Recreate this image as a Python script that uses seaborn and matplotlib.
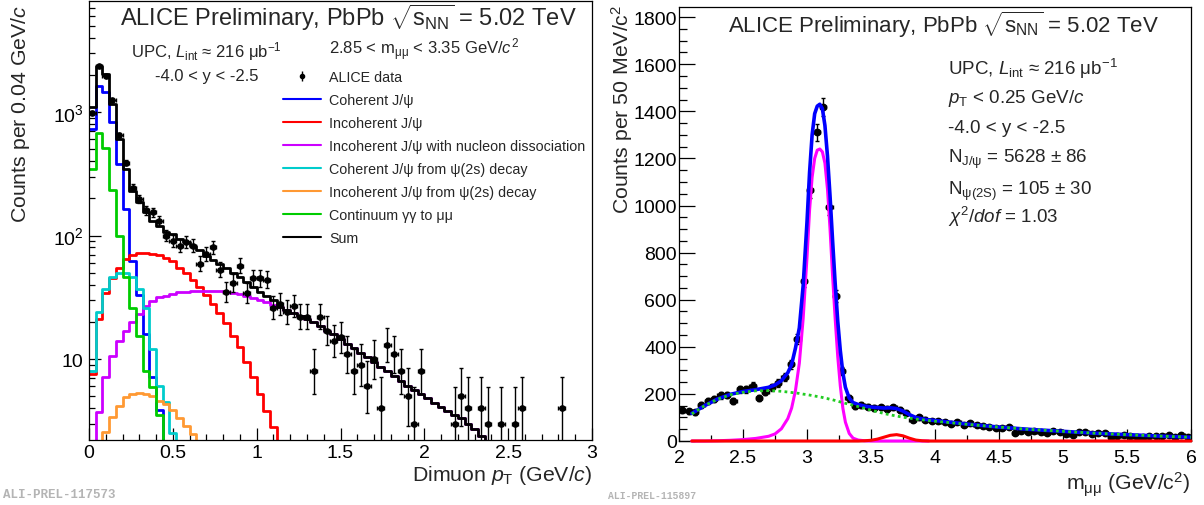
import numpy as np
import pandas as pd
import matplotlib
matplotlib.use("Agg")
import matplotlib.pyplot as plt
import seaborn as sns
from matplotlib.lines import Line2D
from matplotlib.ticker import FixedLocator, FixedFormatter, MultipleLocator, FuncFormatter

# ---------------- left panel: pT distribution (bins of 0.04 GeV/c from 0 to 3) ----------------
pt_bin_width = 0.04
n_pt_bins = 75
data_counts = [990, 2350, 1950, 1240, 650, 390, 243, 198, 160, 155,
               132, 100, 91, 83, 89, 83, 59, 71, 80, 53,
               35, 41, 57, 34, 45, 45, 44, 26, 28, 24,
               27, 22, 22, 8, 22, 17, 14, 15, 11, 8,
               9, 6, 10, 4, 13, 11, 8, 5, 3, 8,
               0, 0, 0, 0, 3, 5, 4, 0, 4, 3,
               0, 3, 0, 3, 4, 0, 0, 0, 0, 0,
               4, 0, 0, 0, 0]
coherent = [728, 1633, 1443, 825, 379, 164, 62, 33, 16, 7.1, 3.9]
incoherent = [7.5, 21, 34, 45, 55, 64, 70, 72, 72, 71, 69, 66, 62, 55, 50, 44, 38, 33,
              28, 23.5, 19.5, 15.5, 12.5, 9.5, 7.2, 5.2, 3.8, 2.8]
incoh_dissoc = [0, 3.7, 7.1, 10.6, 14.0, 17.0, 19.8, 23.1, 27.0, 29.6, 31.6, 32.6, 33.6,
                34.6, 35.2, 35.6, 35.8, 35.8, 35.6, 35.3, 34.8, 34.2, 33.5, 32.5, 31.3,
                30.0, 28.8, 27.5, 26.2, 25.0, 23.7, 22.4, 21.1, 19.8, 18.5, 17.0, 15.8,
                14.5, 13.3, 12.2, 11.2, 10.3, 9.5, 8.7, 8.0, 7.3, 6.7, 6.1, 5.6, 5.2,
                4.8, 4.4, 4.1, 3.8, 3.55, 3.3, 3.0, 2.7, 2.4]
coh_from_psi2s = [8, 24, 37, 46, 50, 50, 46, 37, 26, 12, 6, 4.5, 2.5]
incoh_from_psi2s = [0, 0, 2.55, 3.4, 4.2, 4.9, 5.2, 5.27, 5.2, 5.0, 4.6, 4.3, 3.85,
                    3.3, 2.85, 2.45, 2.1]
continuum = [345, 676, 508, 233, 100, 46, 26, 15.5, 8.0, 5.9, 3.5]

legend_labels = ["ALICE data", "Coherent J/\u03c8", "Incoherent J/\u03c8",
                 "Incoherent J/\u03c8 with nucleon dissociation",
                 "Coherent J/\u03c8 from \u03c8(2s) decay",
                 "Incoherent J/\u03c8 from \u03c8(2s) decay",
                 "Continuum \u03b3\u03b3 to \u03bc\u03bc", "Sum"]
comp_colors = ["#0000ff", "#ff0000", "#cc00ff", "#00cccc", "#ff9933", "#00cc00"]

# ---------------- right panel: invariant mass (bins of 50 MeV/c^2 from 2 to 6) ----------------
m_bin_width = 0.05
mass_counts = [131, 126, 122, 152, 171, 177, 194, 196, 168, 219,
               219, 235, 182, 208, 228, 246, 272, 325, 433, 681,
               1066, 1311, 1417, 992, 617, 299, 181, 147, 153, 146,
               139, 143, 136, 143, 132, 120, 89, 100, 91, 84,
               86, 79, 72, 82, 69, 76, 68, 65, 58, 54,
               55, 58, 33, 44, 40, 41, 37, 34, 44, 40,
               30, 27, 37, 37, 30, 33, 34, 16, 23, 27,
               23, 18, 18, 23, 23, 20, 25, 18, 27, 16]
fit_mass = [2.10, 2.20, 2.30, 2.40, 2.50, 2.60, 2.70, 2.75, 2.80, 2.85, 2.88, 2.91, 2.94, 2.97,
            3.00, 3.02, 3.04, 3.06, 3.08, 3.10, 3.12, 3.14, 3.16, 3.18, 3.20, 3.22, 3.24, 3.26,
            3.28, 3.30, 3.33, 3.36, 3.40, 3.45, 3.50, 3.55, 3.60, 3.65, 3.70, 3.75, 3.80, 3.85,
            3.90, 3.95, 4.00, 4.25, 4.50, 4.75, 5.00, 5.25, 5.50, 5.75, 6.00]
fit_total = [117, 150, 178, 198, 210, 218, 228, 238, 256, 290, 325, 395, 480, 660,
             930, 1140, 1300, 1390, 1422, 1430, 1412, 1340, 1210, 1040, 850, 670, 510, 385,
             290, 228, 182, 163, 155, 148, 144, 142, 140, 141, 138, 127, 112, 100,
             94, 90, 87, 72, 59, 49, 41, 33, 27, 21, 16]
fit_background = [115, 150, 177, 196, 207, 213, 214, 213, 211, 208, 206, 204, 202, 199,
                  197, 195, 193, 191, 189, 187, 185, 182, 180, 177, 175, 172, 169, 166,
                  163, 160, 156, 152, 146, 139, 131, 124, 117, 111, 106, 101, 97, 93,
                  90, 87, 84, 71, 59, 49, 41, 33, 27, 21, 16]
fit_jpsi = [0, 0, 1, 3, 6, 11, 20, 30, 52, 95, 140, 215, 330, 520,
            780, 980, 1120, 1200, 1235, 1240, 1228, 1180, 1070, 900, 700, 520, 360, 235,
            140, 80, 32, 12, 4, 1, 0, 0, 0, 0, 0, 0, 0, 0,
            0, 0]
fit_psi2s = [0, 0, 0, 0, 0, 0, 0, 0, 0, 0, 0, 0, 0, 0,
             0, 0, 0, 0, 0, 0, 0, 0, 0, 0, 0, 0, 0, 0,
             0, 0, 0, 0, 0, 1, 3, 8, 16, 24, 27, 22, 12, 4,
             1, 0, 0, 0, 0, 0, 0, 0, 0, 0, 0]

# ---------------- style ----------------
sns.set_theme(style="ticks")
plt.rcParams["font.family"] = ["Liberation Sans", "DejaVu Sans"]
plt.rcParams["mathtext.fontset"] = "custom"
plt.rcParams["mathtext.rm"] = "Liberation Sans"
plt.rcParams["mathtext.it"] = "Liberation Sans:italic"
plt.rcParams["mathtext.bf"] = "Liberation Sans:bold"
plt.rcParams["mathtext.sf"] = "Liberation Sans"
plt.rcParams["axes.edgecolor"] = "black"
plt.rcParams["axes.linewidth"] = 0.9

W, H = 1204, 506
fig = plt.figure(figsize=(W / 100, H / 100), dpi=100)
fig.patch.set_facecolor("white")

def fx(px):
    return px / W

def fy(py):
    return 1 - py / H

axL = fig.add_axes([fx(89), fy(441), fx(592) - fx(89), fy(2) - fy(441)])
axR = fig.add_axes([fx(679), fy(442), fx(1191) - fx(679), fy(8) - fy(442)])

# ---------------- left panel drawing ----------------
centers = pt_bin_width / 2 + pt_bin_width * np.arange(n_pt_bins)

def pad(vals):
    out = np.zeros(n_pt_bins)
    out[:len(vals)] = vals
    return out

comps = [pad(coherent), pad(incoherent), pad(incoh_dissoc), pad(coh_from_psi2s),
         pad(incoh_from_psi2s), pad(continuum)]
total = np.sum(comps, axis=0)

for vals, col in list(zip(comps, comp_colors)) + [(total, "black")]:
    dfh = pd.DataFrame({"pt": centers, "w": vals})
    sns.histplot(data=dfh, x="pt", weights="w", binwidth=pt_bin_width, binrange=(0, 3),
                 element="step", fill=False, color=col, linewidth=2.0, ax=axL)

dc = np.array(data_counts, dtype=float)
mask = dc > 0
n = dc[mask]
err_hi = 1 + np.sqrt(n + 0.75)
err_lo = n - n * (1 - 1 / (9 * n) - 1 / (3 * np.sqrt(n))) ** 3
axL.errorbar(centers[mask], n, yerr=[err_lo, err_hi], xerr=pt_bin_width / 2,
             fmt="o", ms=3.8, color="black", ecolor="black", elinewidth=1.0,
             capsize=1.5, capthick=1.0, zorder=5)

axL.set_yscale("log")
axL.set_xlim(0, 3)
axL.set_ylim(2.21, 7925)
axL.set_xlabel("")
axL.set_ylabel("")
axL.xaxis.set_major_locator(MultipleLocator(0.5))
axL.xaxis.set_minor_locator(MultipleLocator(0.1))
axL.xaxis.set_major_formatter(FuncFormatter(lambda v, p: "%g" % v))
axL.yaxis.set_major_locator(FixedLocator([10, 100, 1000]))
axL.yaxis.set_major_formatter(FixedFormatter(["10", r"$10^{2}$", r"$10^{3}$"]))
minors = [m * d for d in (1, 10, 100, 1000) for m in range(2, 10)]
axL.yaxis.set_minor_locator(FixedLocator(minors))
axL.tick_params(axis="both", which="both", direction="in", top=False, right=False,
                labelsize=14, colors="black")
axL.tick_params(axis="both", which="major", length=8.6, width=0.9)
axL.tick_params(axis="both", which="minor", length=4.3, width=0.9)
axL.tick_params(axis="x", which="major", pad=3)
axL.tick_params(axis="y", which="major", pad=4)

# legend
h_data = (Line2D([], [], marker="|", ms=7, mew=1, color="black", linestyle="none"),
          Line2D([], [], marker="o", ms=3, color="black", linestyle="none"))
handles = [h_data] + [Line2D([], [], color=c, lw=1.5) for c in comp_colors] + \
          [Line2D([], [], color="black", lw=1.5)]
axL.legend(handles, legend_labels, loc="upper left",
           bbox_to_anchor=(fx(283), fy(71)), bbox_transform=fig.transFigure,
           frameon=False, fontsize=10.3, handlelength=2.66, handletextpad=0.56,
           labelspacing=0.63, borderpad=0, borderaxespad=0)

# ---------------- right panel drawing ----------------
m_centers = 2.0 + m_bin_width / 2 + m_bin_width * np.arange(len(mass_counts))
mc = np.array(mass_counts, dtype=float)
axR.errorbar(m_centers, mc, yerr=np.sqrt(mc), xerr=m_bin_width / 2, fmt="o", ms=4.6,
             color="black", ecolor="black", elinewidth=1.0, capsize=1.5, zorder=3)
nj = len(fit_jpsi)
sns.lineplot(x=fit_mass[:nj], y=fit_jpsi, ax=axR, color="#ff00ff", lw=2.2, sort=False,
             estimator=None, zorder=4, clip_on=False)
sns.lineplot(x=fit_mass, y=fit_psi2s, ax=axR, color="#ff0000", lw=2.2, sort=False,
             estimator=None, zorder=5, clip_on=False)
sns.lineplot(x=fit_mass, y=fit_total, ax=axR, color="#0000ff", lw=2.6, sort=False,
             estimator=None, zorder=6)
sns.lineplot(x=fit_mass, y=fit_background, ax=axR, color="#22cc22", lw=2.0,
             linestyle=(0, (1, 1.2)), sort=False, estimator=None, zorder=7)

axR.set_xlim(2, 6)
axR.set_ylim(0, 1843)
axR.set_xlabel("")
axR.set_ylabel("")
axR.xaxis.set_major_locator(MultipleLocator(0.5))
axR.xaxis.set_minor_locator(MultipleLocator(0.25))
axR.xaxis.set_major_formatter(FuncFormatter(lambda v, p: "%g" % v))
axR.yaxis.set_major_locator(MultipleLocator(200))
axR.yaxis.set_minor_locator(MultipleLocator(50))
axR.tick_params(axis="both", which="both", direction="in", top=False, right=False,
                labelsize=14, colors="black")
axR.tick_params(axis="y", which="major", length=11.5, width=0.9, pad=1.5)
axR.tick_params(axis="y", which="minor", length=5.8, width=0.9)
axR.tick_params(axis="x", which="major", length=8.6, width=0.9, pad=5.5)
axR.tick_params(axis="x", which="minor", length=4.3, width=0.9)

# ---------------- texts ----------------
title = r"ALICE Preliminary, PbPb $\sqrt{\mathrm{s}_{\mathrm{NN}}}$ = 5.02 TeV"
fig.text(fx(120), fy(26), title, fontsize=17, ha="left", va="baseline")
fig.text(fx(728), fy(33), title, fontsize=16, ha="left", va="baseline")

fig.text(fx(131), fy(57), r"UPC, $L_{\mathrm{int}}$ ≈ 216 μb$^{\mathrm{-1}}$",
         fontsize=12, ha="left", va="baseline")
fig.text(fx(155), fy(81), "-4.0 < y < -2.5", fontsize=12, ha="left", va="baseline")
fig.text(fx(329), fy(55), r"2.85 < m$_{\mathrm{\mu\mu}}$ < 3.35 GeV/$c^{2}$",
         fontsize=12, ha="left", va="baseline")

right_lines = [(75, r"UPC, $L_{\mathrm{int}}$ ≈ 216 μb$^{\mathrm{-1}}$"),
               (103, r"$p_{\mathrm{T}}$ < 0.25 GeV/$c$"),
               (133, "-4.0 < y < -2.5"),
               (163, r"N$_{\mathrm{J/\psi}}$ = 5628 ± 86"),
               (195, r"N$_{\mathrm{\psi(2S)}}$ = 105 ± 30"),
               (223, r"$\chi^{2}$/$dof$ = 1.03")]
for yb, s in right_lines:
    fig.text(fx(948), fy(yb), s, fontsize=13.5, ha="left", va="baseline")

fig.text(fx(21), fy(5), "Counts per 0.04 GeV/$c$", fontsize=15.3, rotation=90,
         ha="center", va="top")
fig.text(fx(622), fy(5), r"Counts per 50 MeV/c$^{2}$", fontsize=15.3, rotation=90,
         ha="center", va="top")
fig.text(fx(592), fy(481), r"Dimuon $p_{\mathrm{T}}$ (GeV/$c$)", fontsize=15.3,
         ha="right", va="baseline")
fig.text(fx(1190), fy(491), r"m$_{\mathrm{\mu\mu}}$ (GeV/c$^{2}$)", fontsize=15.3,
         ha="right", va="baseline")

fig.text(fx(3), fy(495.5), "ALI-PREL-117573", fontsize=9, family="Liberation Mono",
         weight="bold", color="#b4b4b4", ha="left", va="center")
fig.text(fx(608), fy(496.5), "ALI-PREL-115897", fontsize=7, family="Liberation Mono",
         weight="bold", color="#b4b4b4", ha="left", va="center")

fig.savefig("out.png", dpi=100)
